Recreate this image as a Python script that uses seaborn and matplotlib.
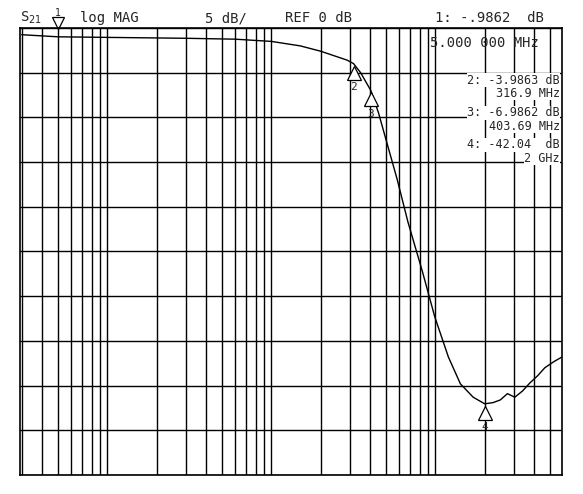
import numpy as np
import pandas as pd
import matplotlib
matplotlib.use("Agg")
import matplotlib.pyplot as plt
import seaborn as sns

freq_mhz = [3, 5, 10, 30, 60, 100, 150, 200, 250, 290, 316.9, 350, 403.69, 450, 493, 584, 680,
            832, 991, 1200, 1420, 1700, 2000, 2250, 2490, 2750, 3050, 3400, 3770, 4200, 4650, 5300, 5916]
s21_db = [-0.75, -0.9862, -1.05, -1.15, -1.25, -1.5, -2.0, -2.6, -3.2, -3.6, -3.9863, -5.0, -6.9862,
          -9.5, -12.1, -16.9, -21.7, -27.2, -32.3, -36.8, -39.8, -41.3, -42.04, -41.9, -41.6, -40.9,
          -41.3, -40.6, -39.7, -38.9, -38.0, -37.3, -36.8]
marker_ids = ["1", "2", "3", "4"]
marker_freq = [5, 316.9, 403.69, 2000]
marker_db = [-0.9862, -3.9863, -6.9862, -42.04]
readouts = [("2: -3.9863 dB", "316.9 MHz"), ("3: -6.9862 dB", "403.69 MHz"), ("4: -42.04  dB", "2 GHz")]

sns.set_style("white")
plt.rcParams['font.family'] = ['DejaVu Sans Mono', 'DejaVu Sans']
fig = plt.figure(figsize=(5.83, 4.94), dpi=100)
ax = fig.add_axes([20/583, 1-475/494, 542/583, 447/494])
df = pd.DataFrame({"f": freq_mhz, "db": s21_db})
sns.lineplot(data=df, x="f", y="db", ax=ax, color="black", lw=1.0)
ax.set_xscale("log")
ax.set_xlim(2.93, 5916)
ax.set_ylim(-50, 0)
ax.set_yticks(np.arange(-50, 1, 5))
xt = [m * 10**d for d in range(0, 4) for m in range(1, 10)]
ax.set_xticks([v for v in xt if 2.93 < v < 5916])
ax.xaxis.set_minor_locator(matplotlib.ticker.NullLocator())
ax.grid(True, color="black", lw=1.0)
ax.tick_params(left=False, bottom=False, labelleft=False, labelbottom=False)
for s in ax.spines.values():
    s.set_color("black"); s.set_linewidth(1.2)
ax.set_xlabel(""); ax.set_ylabel("")

for mid, f, d in zip(marker_ids[1:], marker_freq[1:], marker_db[1:]):
    ax.plot(f, d - 1.0, marker="^", ms=10, mfc="white", mec="black", mew=0.9, clip_on=False)
    ax.text(f, d - 2.6, mid, ha="center", va="center", fontsize=8)
ax.plot(marker_freq[0], 0.6, marker="v", ms=8, mfc="white", mec="black", mew=0.9, clip_on=False)
ax.text(marker_freq[0], 1.7, marker_ids[0], ha="center", va="center", fontsize=7)

fig.text(20/583, 1-18/494, "S$_{21}$", fontsize=10, va="center")
fig.text(80/583, 1-18/494, "log MAG", fontsize=10, va="center")
fig.text(205/583, 1-18/494, "5 dB/", fontsize=10, va="center")
fig.text(285/583, 1-18/494, "REF 0 dB", fontsize=10, va="center")
fig.text(435/583, 1-18/494, "1: -.9862  dB", fontsize=10, va="center")
fig.text(430/583, 1-43/494, "5.000 000 MHz", fontsize=10, va="center")
ys = [(80, 93), (113, 126), (145, 158)]
for (a, b), (y1, y2) in zip(readouts, ys):
    fig.text(560/583, 1-y1/494, a, fontsize=8.5, va="center", ha="right",
             bbox=dict(facecolor="white", edgecolor="none", pad=0.2))
    fig.text(560/583, 1-y2/494, b, fontsize=8.5, va="center", ha="right",
             bbox=dict(facecolor="white", edgecolor="none", pad=0.2))

fig.savefig("out.png", dpi=100, facecolor="white")
